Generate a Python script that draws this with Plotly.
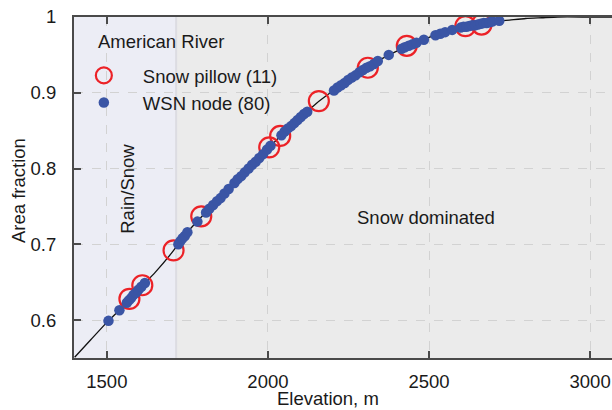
import plotly.graph_objects as go

# ---- data ----
curve_elev = [1400, 1450, 1500, 1550, 1600, 1650, 1700, 1750, 1800, 1850, 1900, 1950,
              2000, 2050, 2100, 2150, 2200, 2250, 2300, 2350, 2400, 2450, 2500, 2550,
              2600, 2650, 2700, 2750, 2800, 2850, 2900, 3000, 3100]
curve_frac = [0.551, 0.574, 0.597, 0.618, 0.641, 0.663, 0.688, 0.716, 0.739, 0.760, 0.783, 0.804,
              0.826, 0.848, 0.867, 0.886, 0.902, 0.917, 0.931, 0.944, 0.955, 0.964, 0.973, 0.980,
              0.986, 0.990, 0.994, 0.996, 0.998, 0.999, 1.000, 1.000, 1.000]

pillow_elev = [1570, 1610, 1707, 1793, 2004, 2038, 2158, 2310, 2431, 2613, 2663]
pillow_frac = [0.628, 0.646, 0.692, 0.737, 0.828, 0.843, 0.889, 0.933, 0.962, 0.988, 0.990]

wsn_elev = [1505, 1539,
            1562, 1568, 1575, 1582, 1590, 1598, 1607, 1618,
            1722, 1728, 1735, 1742, 1750,
            1781,
            1808, 1818, 1830, 1842, 1853, 1865, 1878,
            1896, 1906, 1917, 1928, 1940, 1951, 1962,
            1973, 1985, 1997, 2008,
            2042, 2052, 2062, 2072, 2082, 2092, 2102, 2112, 2122,
            2205, 2216, 2227, 2238, 2249, 2260, 2272, 2284, 2295, 2306, 2317, 2329, 2341,
            2375,
            2415, 2425, 2437, 2449, 2461,
            2484,
            2520, 2535, 2550,
            2572,
            2598, 2607, 2616, 2625, 2634, 2643, 2652, 2661, 2670, 2679, 2688, 2696,
            2718]
wsn_frac = [0.599, 0.613,
            0.623, 0.626, 0.629, 0.633, 0.636, 0.640, 0.644, 0.649,
            0.700, 0.704, 0.708, 0.711, 0.716,
            0.730,
            0.742, 0.747, 0.752, 0.757, 0.761, 0.767, 0.773,
            0.781, 0.786, 0.790, 0.795, 0.800, 0.805, 0.809,
            0.814, 0.819, 0.825, 0.830,
            0.844, 0.849, 0.853, 0.856, 0.860, 0.864, 0.868, 0.872, 0.875,
            0.903, 0.907, 0.910, 0.913, 0.917, 0.920, 0.923, 0.927, 0.930, 0.933, 0.935, 0.938, 0.942,
            0.950,
            0.958, 0.960, 0.962, 0.964, 0.966,
            0.970,
            0.976, 0.978, 0.980,
            0.983,
            0.986, 0.987, 0.987, 0.988, 0.989, 0.989, 0.990, 0.991, 0.992, 0.992, 0.993, 0.994,
            0.995]

x_ticks = [1500, 2000, 2500, 3000]
y_ticks = [0.6, 0.7, 0.8, 0.9, 1.0]
y_ticklabels = ["0.6", "0.7", "0.8", "0.9", "1"]

x_range = [1398, 3068]
y_range = [0.55, 1.0]
rain_snow_limit = 1715

FONT = "Liberation Sans, Arial, sans-serif"
FS = 18.5
TXT = "#1a1a1a"
BLUE = "#3a55a5"
RED = "#ec2227"
AXIS = "#4a4a4a"

fig = go.Figure()

fig.add_trace(go.Scatter(x=curve_elev, y=curve_frac, mode="lines",
                         line=dict(color="#111111", width=1.3, shape="spline", smoothing=0.6),
                         showlegend=False, hoverinfo="skip"))

fig.add_trace(go.Scatter(x=pillow_elev, y=pillow_frac, mode="markers",
                         name="Snow pillow (11)",
                         marker=dict(symbol="circle-open", size=20, color=RED,
                                     line=dict(width=2.2, color=RED))))

fig.add_trace(go.Scatter(x=wsn_elev, y=wsn_frac, mode="markers",
                         name="WSN node (80)",
                         marker=dict(symbol="circle", size=10.5, color=BLUE)))

# rain/snow transition zone shading
fig.add_shape(type="rect", xref="x", yref="y", x0=x_range[0], x1=rain_snow_limit,
              y0=y_range[0], y1=y_range[1], fillcolor="#ecedf5", line=dict(width=0),
              layer="below")
fig.add_shape(type="line", xref="x", yref="y", x0=rain_snow_limit, x1=rain_snow_limit,
              y0=y_range[0], y1=y_range[1], line=dict(color="#dcdce2", width=2),
              layer="below")

fig.add_annotation(x=1564, y=0.774, xref="x", yref="y", text="Rain/Snow",
                   textangle=-90, showarrow=False, font=dict(size=FS, color=TXT, family=FONT))
fig.add_annotation(x=2490, y=0.735, xref="x", yref="y", text="Snow dominated",
                   showarrow=False, font=dict(size=FS, color=TXT, family=FONT))

# legend title
fig.add_annotation(x=0.041, y=0.927, xref="paper", yref="paper", text="American River",
                   showarrow=False, xanchor="left", yanchor="middle",
                   font=dict(size=FS, color=TXT, family=FONT))

# axis titles
fig.add_annotation(x=0.473, y=-0.12, xref="paper", yref="paper", text="Elevation, m",
                   showarrow=False, xanchor="center", yanchor="middle",
                   font=dict(size=FS, color=TXT, family=FONT))
fig.add_annotation(x=-0.102, y=0.49, xref="paper", yref="paper", text="Area fraction",
                   textangle=-90, showarrow=False, xanchor="center", yanchor="middle",
                   font=dict(size=FS, color=TXT, family=FONT))

fig.update_xaxes(range=x_range, tickvals=x_ticks, ticks="inside", ticklen=7, tickwidth=2,
                 tickcolor=AXIS, showline=True, linewidth=2, linecolor=AXIS, mirror="ticks",
                 showgrid=True, gridcolor="#d2d2d2", griddash="dash", gridwidth=1,
                 zeroline=False, tickfont=dict(size=FS, color=TXT, family=FONT),
                 ticklabelstandoff=6)
fig.update_yaxes(range=y_range, tickvals=y_ticks, ticktext=y_ticklabels, ticks="inside",
                 ticklen=7, tickwidth=2, tickcolor=AXIS, showline=True, linewidth=2,
                 linecolor=AXIS, showgrid=True, gridcolor="#d2d2d2", griddash="dash",
                 gridwidth=1, zeroline=False,
                 tickfont=dict(size=FS, color=TXT, family=FONT),
                 ticklabelstandoff=12)

fig.update_layout(
    width=612, height=410,
    margin=dict(l=74, r=0, t=17, b=52),
    paper_bgcolor="white", plot_bgcolor="#ebebeb",
    font=dict(family=FONT, size=FS, color=TXT),
    legend=dict(x=-0.017, y=0.883, xanchor="left", yanchor="top",
                bgcolor="rgba(0,0,0,0)", borderwidth=0,
                font=dict(size=FS, family=FONT, color=TXT),
                itemwidth=68, tracegroupgap=0),
)

fig.write_html("out.html")
